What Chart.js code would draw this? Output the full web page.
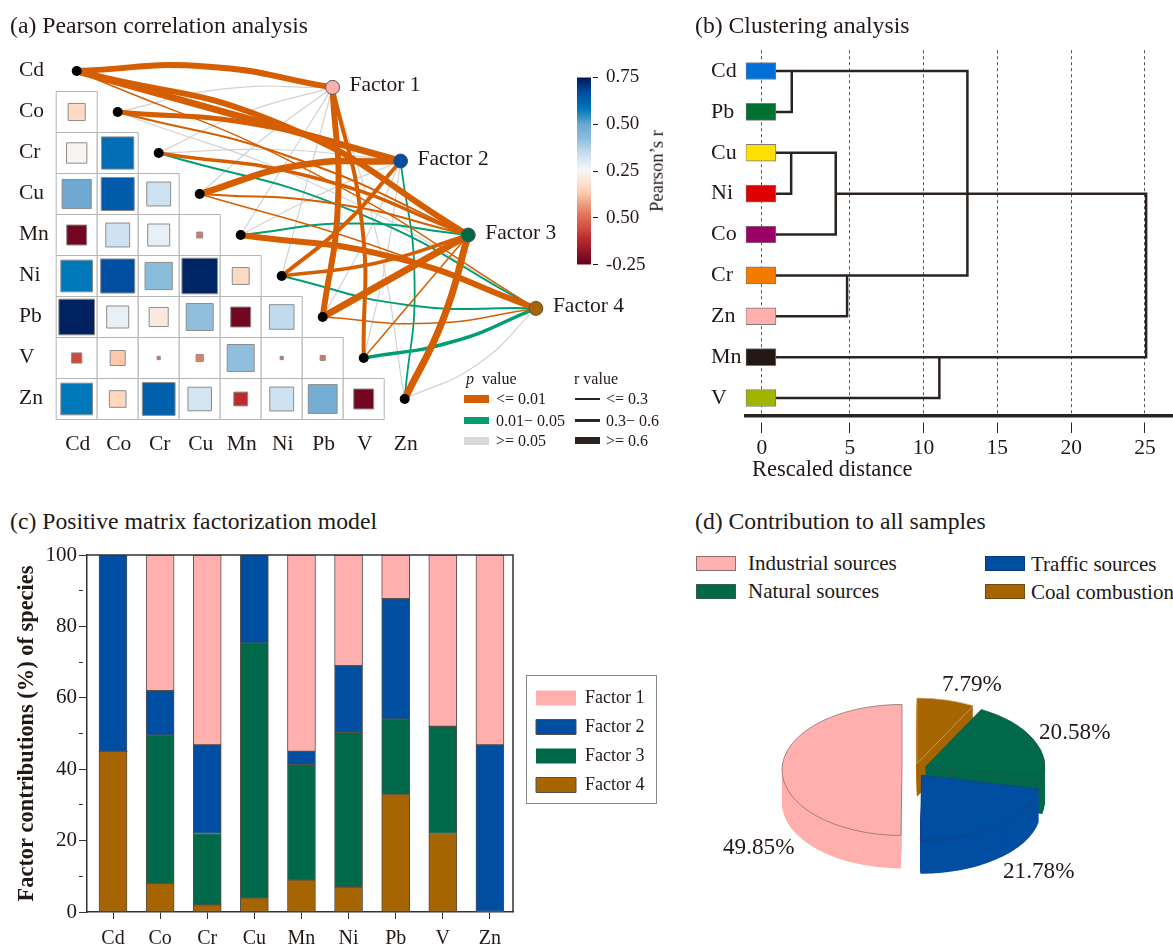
<!DOCTYPE html>
<html lang="en">

<head>
  <meta charset="UTF-8">
  <title>Source apportionment</title>
  <script src="https://cdn.jsdelivr.net/npm/chart.js@4/dist/chart.umd.js"></script>
  <style>
    html, body { margin: 0; padding: 0; background: #fff; overflow: hidden; }
    body { width: 1173px; height: 948px; position: relative; font-family: "Liberation Serif", serif; color: #231815; }
    canvas { position: absolute; }
    .t { position: absolute; white-space: nowrap; transform: translateY(-50%); line-height: 1; }
    .s { position: absolute; box-sizing: border-box; }
  </style>
</head>

<body>
  <canvas id="corr" width="700" height="480" style="left:0;top:0"></canvas>
  <canvas id="cbar" width="120" height="226" style="top:58px;left:560px"></canvas>
  <canvas id="dendro" width="462" height="453" style="left:711px;top:37px"></canvas>
  <canvas id="bars" width="680" height="408" style="left:0;top:540px"></canvas>
  <canvas id="pie" width="280" height="280" style="left:774px;top:630px"></canvas>
</body>

<script>
  const F = '"Liberation Serif", serif';
  Chart.defaults.font.family = F;
  Chart.defaults.color = '#231815';
  Chart.defaults.animation = false;
  Chart.defaults.responsive = false;
  Chart.defaults.events = [];
  Chart.defaults.plugins.legend.display = false;
  Chart.defaults.plugins.tooltip.enabled = false;

  // ---- data ----
  const elements = ['Cd', 'Co', 'Cr', 'Cu', 'Mn', 'Ni', 'Pb', 'V', 'Zn'];
  const factors = ['Factor 1', 'Factor 2', 'Factor 3', 'Factor 4'];

  const corrRows = [
    [0.17],
    [0.24, 0.60],
    [0.49, 0.63, 0.33],
    [-0.23, 0.33, 0.28, 0.02],
    [0.58, 0.67, 0.43, 0.73, 0.165],
    [0.735, 0.28, 0.21, 0.42, -0.23, 0.35],
    [-0.06, 0.13, 0.006, 0.03, 0.42, 0.006, 0.015],
    [0.58, 0.16, 0.62, 0.32, -0.11, 0.33, 0.48, -0.23],
  ];

  const factorCol = [6.24, 7.90, 9.55, 11.2];
  const factorRow = [0.40, 2.195, 4.0, 5.79];

  // one row per factor, one entry per element: o <=0.01, g 0.01-0.05, n >=0.05
  const linkP = [
    ['o', 'n', 'n', 'n', 'n', 'n', 'o', 'o', 'n'],
    ['o', 'o', 'n', 'o', 'n', 'o', 'n', 'n', 'g'],
    ['o', 'o', 'o', 'o', 'g', 'o', 'o', 'o', 'o'],
    ['o', 'n', 'g', 'o', 'o', 'g', 'o', 'g', 'n'],
  ];
  const linkR = [
    [6, 1.2, 1.2, 1.2, 1.2, 1.2, 6, 4, 1.2],
    [6.5, 5, 1.2, 6.5, 1.2, 4, 1.2, 1.2, 1.8],
    [6, 2, 3.5, 2, 2, 3.5, 7, 1.5, 7],
    [1.5, 1.2, 2, 1.5, 6, 2, 1.5, 3.5, 1.2],
  ];
  const linkCurve = [
    [0.05, 0.05, 0.04, 0.02, 0, 0, -0.045, -0.05, -0.03],
    [0, 0.04, 0.03, 0.06, 0.02, -0.04, -0.02, -0.02, -0.05],
    [0.07, 0.04, 0.05, 0.04, 0.05, -0.04, 0, 0, -0.04],
    [0.035, 0.04, 0.05, 0.02, 0.05, -0.05, -0.05, -0.05, -0.08],
  ];

  const cbarStops = [-0.25, -0.11, -0.05, 0.02, 0.13, 0.17, 0.25, 0.33, 0.43, 0.5, 0.58, 0.62, 0.67, 0.75];
  const cbarColors = ['#67001F', '#BC2B2F', '#D0513F', '#E2755F', '#FDC9A9', '#FDDBC7', '#F7F7F7',
    '#CFE2F1', '#89BBDB', '#6BA6D0', '#0079BB', '#0060AC', '#004EA2', '#00174F'];
  const cbarTicks = ['-0.25', '0.50', '0.25', '0.50', '0.75'];

  // dendrogram, top to bottom
  const leaves = ['Cd', 'Pb', 'Cu', 'Ni', 'Co', 'Cr', 'Zn', 'Mn', 'V'];
  const leafColors = ['#0070D8', '#007030', '#FFE000', '#E00000', '#9B0066', '#F57A00', '#FFB0AE', '#231815', '#A0B400'];
  const dendroPaths = [
    [[0, 0], [12.97, 0], [12.97, 5], [0, 5]],
    [[0, 1], [1.07, 1], [1.07, 0]],
    [[0, 2], [4.05, 2], [4.05, 4], [0, 4]],
    [[0, 3], [1.03, 3], [1.03, 2]],
    [[4.82, 5], [4.82, 6], [0, 6]],
    [[4.05, 3], [25.08, 3], [25.08, 7], [0, 7]],
    [[11.07, 7], [11.07, 8], [0, 8]],
  ];
  const distTicks = [-0.96, 5, 10, 15, 20, 25];
  const distLabels = ['0', '5', '10', '15', '20', '25'];

  // stacked bars
  const factor1 = [0, 38, 53.2, 0, 55, 31, 12.2, 48, 53.2];
  const factor2 = [55, 12.5, 24.8, 24.7, 3.7, 18.7, 33.8, 0, 46.8];
  const factor3 = [0, 41.5, 20, 71.3, 32.3, 43.3, 21, 30, 0];
  const factor4 = [45, 8, 2, 4, 9, 7, 33, 22, 0];

  // pie, clockwise from 12 o'clock
  const sources = ['Coal combustion', 'Natural sources', 'Traffic sources', 'Industrial sources'];
  const shares = [7.79, 20.58, 21.78, 49.85];

  const PINK = '#FFB0AE', BLUE = '#004EA2', GREEN = '#00694A', BROWN = '#A66500';
  const factorColors = [PINK, BLUE, GREEN, BROWN];
  const INK = '#2B2320';

  // ---- html text helpers ----
  function put(text, x, y, size, extra) {
    const d = document.createElement('div');
    d.className = 't';
    d.innerHTML = text;
    d.style.cssText = `left:${x}px;top:${y}px;font-size:${size}px;` + (extra || '');
    document.body.appendChild(d);
  }
  function box(x, y, w, h, color, border) {
    const d = document.createElement('div');
    d.className = 's';
    d.style.cssText = `left:${x}px;top:${y}px;width:${w}px;height:${h}px;background:${color};` + (border ? `border:1px solid ${border};` : '');
    document.body.appendChild(d);
  }

  put('(a) Pearson correlation analysis', 10, 26, 23.7);
  put('(b) Clustering analysis', 695, 26, 23.7);
  put('(c) Positive matrix factorization model', 10, 522, 23.7);
  put('(d) Contribution to all samples', 695, 522, 23.7);
  put('Rescaled distance', 752, 469, 22.5);

  // p / r legend of panel a
  put('<i>p</i>&nbsp;&nbsp;value', 466, 379, 16);
  put('r value', 574, 379, 16);
  box(464, 395, 25, 8, '#D55E00');
  box(464, 417, 25, 7, '#009E73');
  box(464, 437, 25, 8, '#D9D9D9');
  put('&lt;= 0.01', 496, 399, 16);
  put('0.01− 0.05', 496, 421, 16);
  put('&gt;= 0.05', 496, 441, 16);
  box(575, 398, 25, 1.5, INK);
  box(575, 419, 25, 3, INK);
  box(575, 437, 25, 7, INK);
  put('&lt;= 0.3', 606, 399, 16);
  put('0.3− 0.6', 606, 421, 16);
  put('&gt;= 0.6', 606, 441, 16);
  put("Pearson’s r", 657, 171, 18.5, 'transform:translate(-50%,-50%) rotate(-90deg);');

  // legend of panel d
  box(696, 556, 40, 15, PINK, '#8a7070');
  box(696, 584, 40, 15, GREEN, '#3a5a50');
  box(985, 556, 40, 15, BLUE, '#0a3a78');
  box(985, 584, 40, 15, BROWN, '#6e4a10');
  put(sources[3], 748, 563, 21);
  put(sources[1], 748, 591, 21);
  put(sources[2], 1031, 564, 21);
  put(sources[0], 1031, 592, 21);

  // pie labels
  put(shares[0].toFixed(2) + '%', 942, 684, 23.2);
  put(shares[1].toFixed(2) + '%', 1039, 732, 23.2);
  put(shares[2].toFixed(2) + '%', 1003, 871, 23.2);
  put(shares[3].toFixed(2) + '%', 723, 847, 23.2);

  // ---- (a) matrix and links ----
  const CELL = 41;
  function rToColor(r) {
    let i = 0;
    while (i < cbarStops.length - 2 && r > cbarStops[i + 1]) i++;
    const t = (r - cbarStops[i]) / (cbarStops[i + 1] - cbarStops[i]);
    const a = cbarColors[i], b = cbarColors[i + 1];
    const c = [1, 3, 5].map(k => Math.round(parseInt(a.substr(k, 2), 16) * (1 - t) + parseInt(b.substr(k, 2), 16) * t));
    return `rgb(${c[0]},${c[1]},${c[2]})`;
  }

  const cells = [], squares = [], squareSize = [], squareColor = [];
  corrRows.forEach((vals, i) => vals.forEach((r, c) => {
    cells.push({ x: c, y: i + 1 });
    squares.push({ x: c, y: i + 1 });
    squareSize.push(41.6 * Math.sqrt(Math.abs(r)) / Math.SQRT2);
    squareColor.push(rToColor(r));
  }));

  const pStyle = { o: ['#D55E00', 10], g: ['#009E73', 20], n: ['#D2D2D2', 30] };
  const linkSets = [];
  factors.forEach((f, k) => elements.forEach((e, i) => {
    const x0 = i, y0 = i, x1 = factorCol[k], y1 = factorRow[k];
    const c = linkCurve[k][i];
    linkSets.push({
      type: 'scatter', showLine: true, pointRadius: 0, tension: 0.5,
      data: [{ x: x0, y: y0 }, { x: (x0 + x1) / 2 + (y1 - y0) * c, y: (y0 + y1) / 2 - (x1 - x0) * c }, { x: x1, y: y1 }],
      borderColor: pStyle[linkP[k][i]][0], borderWidth: linkR[k][i], order: pStyle[linkP[k][i]][1],
    });
  }));

  const corrLabels = {
    id: 'corrLabels',
    afterDatasetsDraw(chart) {
      const { ctx, scales: { x, y } } = chart;
      ctx.save();
      ctx.fillStyle = '#231815';
      ctx.font = '21.5px ' + F;
      ctx.textBaseline = 'middle';
      ctx.textAlign = 'left';
      elements.forEach((e, i) => ctx.fillText(e, 19, y.getPixelForValue(i) - 1));
      factors.forEach((f, k) => ctx.fillText(f, x.getPixelForValue(factorCol[k]) + 17, y.getPixelForValue(factorRow[k]) - 2));
      ctx.textAlign = 'center';
      elements.forEach((e, i) => ctx.fillText(e, x.getPixelForValue(i) + 1, y.getPixelForValue(9.1)));
      ctx.restore();
    }
  };

  new Chart(document.getElementById('corr'), {
    type: 'scatter',
    data: {
      datasets: [
        { data: cells, pointStyle: 'rect', pointRadius: CELL / Math.SQRT2, backgroundColor: '#fff', borderColor: '#b4b4b4', borderWidth: 1, order: 50 },
        { data: squares, pointStyle: 'rect', pointRadius: squareSize, backgroundColor: squareColor, borderColor: '#8c8c8c', borderWidth: 1, order: 40 },
        ...linkSets,
        { data: elements.map((e, i) => ({ x: i, y: i })), pointRadius: 5, backgroundColor: '#000', borderWidth: 0, order: 2 },
        { data: factorCol.map((c, k) => ({ x: c, y: factorRow[k] })), pointRadius: 7, backgroundColor: factorColors, borderColor: '#555', borderWidth: 1, order: 1 },
      ]
    },
    options: {
      layout: { padding: 0, autoPadding: false },
      scales: {
        x: { display: false, min: -76.7 / CELL, max: (700 - 76.7) / CELL },
        y: { display: false, reverse: true, min: -71 / CELL, max: (480 - 71) / CELL },
      }
    },
    plugins: [corrLabels]
  });

  // ---- colour bar ----
  new Chart(document.getElementById('cbar'), {
    type: 'bar',
    data: {
      labels: ['r'],
      datasets: [{
        data: [[-0.25, 0.75]],
        barPercentage: 1, categoryPercentage: 1, borderSkipped: false,
        backgroundColor(c) {
          const { chartArea, scales: { y } } = c.chart;
          if (!chartArea) return '#fff';
          const g = c.chart.ctx.createLinearGradient(0, y.getPixelForValue(-0.25), 0, y.getPixelForValue(0.75));
          cbarStops.forEach((s, i) => g.addColorStop(s + 0.25, cbarColors[i]));
          return g;
        }
      }]
    },
    options: {
      layout: { padding: { left: 17, top: 0, bottom: 0, right: 0 } },
      scales: {
        x: { display: false },
        y: {
          position: 'right', min: -0.25, max: 0.75,
          afterFit(s) { s.width = 89; },
          border: { display: false },
          grid: { drawOnChartArea: false, tickLength: 7, color: '#231815', tickBorderDash: [0, 2, 5, 20] },
          ticks: { stepSize: 0.25, padding: 8, font: { size: 19 }, callback: (v, i) => cbarTicks[i] }
        }
      }
    }
  });

  // ---- (b) dendrogram ----
  new Chart(document.getElementById('dendro'), {
    type: 'scatter',
    data: {
      datasets: [
        {
          type: 'bar', indexAxis: 'y', barThickness: 17, order: 1, borderSkipped: false,
          data: leaves.map((l, i) => ({ x: [-2.05, 0], y: i })),
          backgroundColor: leafColors, borderColor: '#7a7a7a', borderWidth: 1
        },
        ...dendroPaths.map(p => ({
          type: 'scatter', showLine: true, pointRadius: 0, order: 2,
          data: p.map(q => ({ x: q[0], y: q[1] })),
          borderColor: INK, borderWidth: 2.5, borderJoinStyle: 'miter'
        }))
      ]
    },
    options: {
      layout: { padding: 0, autoPadding: false },
      scales: {
        x: {
          min: -2.05, max: 26.9, offset: false,
          afterBuildTicks(s) { s.ticks = distTicks.map(v => ({ value: v })); },
          afterFit(s) { s.height = 74; },
          border: { display: true, width: 3.5, color: INK, dash: [3, 3] },
          grid: { offset: false, color: '#555', lineWidth: 1, tickLength: 17, tickColor: INK, tickBorderDash: [0, 5, 12, 50] },
          ticks: { autoSkip: false, maxRotation: 0, padding: 2, font: { size: 21.5 }, callback: (v, i) => distLabels[i] }
        },
        y: {
          reverse: true, min: -0.51, max: 8.44, offset: false,
          afterBuildTicks(s) { s.ticks = leaves.map((l, i) => ({ value: i })); },
          afterFit(s) { s.width = 34.7; },
          border: { display: false },
          grid: { display: false, drawTicks: false, offset: false },
          ticks: { autoSkip: false, crossAlign: 'far', padding: 0, font: { size: 22 }, callback: (v, i) => leaves[i] }
        }
      }
    }
  });

  // ---- (c) stacked bars ----
  const FRAME = { left: 526, top: 135, right: 657, bottom: 264 };
  const barFrame = {
    id: 'barFrame',
    beforeDraw(chart) {
      // legend sits outside the plot, keep its box where the frame is
      Object.assign(chart.legend, { left: 525, top: 138, right: 657, bottom: 300 });
    },
    afterDraw(chart) {
      const { ctx, chartArea: a } = chart;
      ctx.save();
      ctx.strokeStyle = '#333';
      ctx.lineWidth = 1.5;
      ctx.beginPath();
      ctx.moveTo(a.left, a.top);
      ctx.lineTo(a.right, a.top);
      ctx.lineTo(a.right, a.bottom);
      ctx.stroke();
      ctx.strokeStyle = '#888';
      ctx.lineWidth = 1;
      ctx.strokeRect(FRAME.left + 0.5, FRAME.top + 0.5, FRAME.right - FRAME.left - 1, FRAME.bottom - FRAME.top - 1);
      ctx.restore();
    }
  };
  const barBase = { barThickness: 28, borderColor: '#55504a', borderWidth: c => (c.raw === 0 ? 0 : 1), borderSkipped: false };

  new Chart(document.getElementById('bars'), {
    type: 'bar',
    data: {
      labels: elements.map((e, i) => i),
      datasets: [
        { label: factors[3], data: factor4, backgroundColor: BROWN, ...barBase },
        { label: factors[2], data: factor3, backgroundColor: GREEN, ...barBase },
        { label: factors[1], data: factor2, backgroundColor: BLUE, ...barBase },
        { label: factors[0], data: factor1, backgroundColor: PINK, ...barBase },
      ]
    },
    options: {
      layout: { padding: { top: 15, right: 167, left: 0, bottom: 0 } },
      plugins: {
        legend: {
          display: true, position: 'chartArea', align: 'start', reverse: true,
          labels: { boxWidth: 40, boxHeight: 15, padding: 11, font: { size: 18 }, color: '#231815' }
        }
      },
      scales: {
        x: {
          type: 'linear', stacked: true, min: -0.552, max: 8.49, offset: false,
          afterBuildTicks(s) { s.ticks = elements.map((e, i) => ({ value: i })); },
          afterFit(s) { s.height = 36; },
          border: { color: '#333', width: 1.5 },
          grid: { offset: false, drawOnChartArea: false, tickLength: 7, color: '#333' },
          ticks: { autoSkip: false, padding: 8, maxRotation: 0, font: { size: 20 }, callback: (v, i) => elements[i] }
        },
        y: {
          stacked: true, min: 0, max: 100,
          afterFit(s) { s.width = 87; },
          border: { color: '#333', width: 1.5 },
          grid: { drawOnChartArea: false, tickLength: 8, color: '#333', tickBorderDash: c => (c.tick.value % 20 ? [4, 20] : []) },
          ticks: { stepSize: 10, autoSkip: false, padding: 2, font: { size: 21 }, callback: v => (v % 20 ? '' : v) },
          title: { display: true, text: 'Factor contributions (%) of species', font: { size: 22.4, weight: 'bold' }, padding: { top: 14, bottom: 0 } }
        }
      }
    },
    plugins: [barFrame]
  });

  // ---- (d) tilted pie: library arcs drawn squashed, with a stacked side wall ----
  const SQUASH = 0.546, DEPTH = 33, EXPLODE = 12;
  const tiltPie = {
    id: 'tiltPie',
    beforeDatasetDraw(chart, args) {
      const { ctx } = chart;
      const arcs = args.meta.data;
      const cx = arcs[0].x, cy = arcs[0].y;
      ctx.save();
      ctx.translate(cx, cy);
      ctx.scale(1, SQUASH);
      ctx.translate(-cx, -cy);
      [3, 0, 1, 2].forEach(i => {
        const a = arcs[i], keep = a.options;
        const mid = (a.startAngle + a.endAngle) / 2;
        ctx.save();
        ctx.translate(Math.cos(mid) * EXPLODE, Math.sin(mid) * EXPLODE);
        a.options = { ...keep, borderWidth: 0 };
        for (let d = DEPTH; d > 0; d--) {
          ctx.save();
          ctx.translate(0, d / SQUASH);
          a.draw(ctx);
          ctx.restore();
        }
        a.options = keep;
        a.draw(ctx);
        ctx.restore();
      });
      ctx.restore();
      return false;
    }
  };

  new Chart(document.getElementById('pie'), {
    type: 'pie',
    data: {
      labels: sources,
      datasets: [{
        data: shares,
        backgroundColor: [BROWN, GREEN, BLUE, PINK],
        borderColor: ['#c8a870', '#2a5a48', '#1b3f78', '#8a7070'],
        borderWidth: 1, radius: 120
      }]
    },
    options: { layout: { padding: 0, autoPadding: false } },
    plugins: [tiltPie]
  });
</script>

</html>
